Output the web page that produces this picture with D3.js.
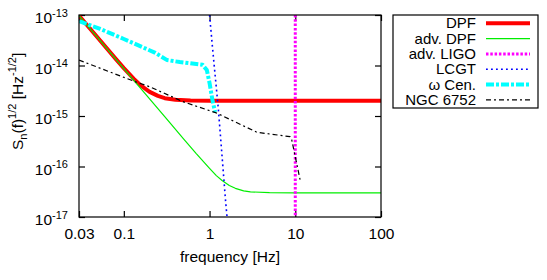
<!DOCTYPE html>
<html lang="en">
<head>
    <style>
        body { margin: 0; background: #fff; }
        svg { display: block; }
        text { font-family: "Liberation Sans", Arial, Helvetica, sans-serif; fill: #000; }
    </style>
</head>
<body>
    <svg width="547" height="280"></svg>
    <script src="https://cdn.jsdelivr.net/npm/d3@7/dist/d3.min.js"></script>
    <script>
        // Data (frequency in Hz, sqrt(Sn) in Hz^-1/2)
        const dpfF = [0.03, 0.05, 0.08, 0.1, 0.13, 0.16, 0.2, 0.25, 0.3, 0.4, 0.6, 1, 10, 100];
        const dpfS = [9.7e-14, 3.5e-14, 1.37e-14, 8.9e-15, 5.5e-15, 3.95e-15, 3.0e-15, 2.5e-15, 2.25e-15, 2.1e-15, 2.02e-15, 2.0e-15, 2.0e-15, 2.0e-15];

        const advDpfF = [0.03, 0.1, 0.3, 0.5, 0.7, 1.0, 1.2, 1.4, 1.7, 2.0, 2.5, 3.0, 5, 10, 100];
        const advDpfS = [9.7e-14, 8.7e-15, 9.7e-16, 3.5e-16, 1.8e-16, 9.2e-17, 6.6e-17, 5.3e-17, 4.2e-17, 3.7e-17, 3.3e-17, 3.15e-17, 3.03e-17, 3.0e-17, 3.0e-17];

        const ligoF = [10, 10];
        const ligoS = [1e-13, 1e-17];

        const lcgtF = [1.0, 1.07, 1.27, 1.53, 1.6];
        const lcgtS = [1e-13, 2.8e-14, 1.3e-15, 2.3e-17, 1e-17];

        const omegaF = [0.03, 0.053, 0.1, 0.23, 0.32, 0.45, 0.83, 0.93, 1.0, 1.08, 1.16];
        const omegaS = [7.6e-14, 5.3e-14, 3.35e-14, 1.8e-14, 1.28e-14, 1.17e-14, 1.03e-14, 8.1e-15, 4.5e-15, 2.07e-15, 1.2e-15];

        const ngcF = [0.03, 0.135, 0.2, 0.49, 1.2, 3.58, 8.7, 9.1, 11.4];
        const ngcS = [1.28e-14, 4.8e-15, 3.8e-15, 1.92e-15, 1.15e-15, 4.75e-16, 3.9e-16, 3.35e-16, 5.4e-17];

        const seriesNames = ["DPF", "adv. DPF", "adv. LIGO", "LCGT", "\u03c9 Cen.", "NGC 6752"];
        const xTicks = [0.03, 0.1, 1, 10, 100];
        const xTickLabels = ["0.03", "0.1", "1", "10", "100"];
        const yTicks = [1e-13, 1e-14, 1e-15, 1e-16, 1e-17];
        const yTickExp = ["-13", "-14", "-15", "-16", "-17"];

        const svg = d3.select("svg");
        const pLeft = 79, pRight = 381, pTop = 15, pBottom = 217;

        const x = d3.scaleLog().domain([0.03, 100]).range([pLeft, pRight]);
        const y = d3.scaleLog().domain([1e-17, 1e-13]).range([pBottom, pTop]);

        // Styles per series
        const styles = [
            { color: "#ff0000", width: 4, dash: null },
            { color: "#00ee00", width: 1.2, dash: null },
            { color: "#ff00ff", width: 3, dash: "2.5,1.8" },
            { color: "#0000ff", width: 1.6, dash: "1.8,3.2" },
            { color: "#00ffff", width: 4, dash: "8,2,3,2" },
            { color: "#000000", width: 1.2, dash: "5,3,2,3" }
        ];
        const series = [
            [dpfF, dpfS], [advDpfF, advDpfS], [ligoF, ligoS],
            [lcgtF, lcgtS], [omegaF, omegaS], [ngcF, ngcS]
        ].map((s, i) => ({ name: seriesNames[i], pts: s[0].map((f, j) => [f, s[1][j]]), style: styles[i] }));

        svg.append("defs").append("clipPath").attr("id", "plot")
            .append("rect").attr("x", pLeft).attr("y", pTop)
            .attr("width", pRight - pLeft).attr("height", pBottom - pTop);

        /*** Axes ***/
        const xb = svg.append("g").attr("transform", `translate(0,${pBottom})`)
            .call(d3.axisBottom(x).tickValues(xTicks).tickSize(-6).tickPadding(11)
                .tickFormat((d, i) => xTickLabels[i]));
        svg.append("g").attr("transform", `translate(0,${pTop})`)
            .call(d3.axisTop(x).tickValues(xTicks).tickSize(-6).tickFormat(""));
        const yl = svg.append("g").attr("transform", `translate(${pLeft},0)`)
            .call(d3.axisLeft(y).tickValues(yTicks).tickSize(-6).tickPadding(11).tickFormat(""));
        svg.append("g").attr("transform", `translate(${pRight},0)`)
            .call(d3.axisRight(y).tickValues(yTicks).tickSize(-6).tickFormat(""));

        svg.selectAll(".domain").remove();
        svg.selectAll(".tick line").attr("stroke", "#000").attr("stroke-width", 1.2);
        xb.selectAll("text").style("font-size", "15.5px").attr("fill", "#000");

        // y tick labels: 10 with superscript exponent
        yl.selectAll(".tick text").each(function(d, i) {
            const t = d3.select(this).text(null).attr("dy", "7.7").style("font-size", "15.5px").attr("fill", "#000");
            t.append("tspan").text("10");
            t.append("tspan").attr("dy", -6.7).style("font-size", "11px").text(yTickExp[i]);
        });

        /*** Lines ***/
        const line = d3.line().x(d => x(d[0])).y(d => y(d[1]));
        const plot = svg.append("g").attr("clip-path", "url(#plot)");
        plot.selectAll("path").data(series).enter()
            .append("path")
            .attr("d", d => line(d.pts))
            .attr("fill", "none")
            .attr("stroke", d => d.style.color)
            .attr("stroke-width", d => d.style.width)
            .attr("stroke-dasharray", d => d.style.dash)
            .attr("stroke-linejoin", "round");

        // Frame
        svg.append("rect").attr("x", pLeft).attr("y", pTop)
            .attr("width", pRight - pLeft).attr("height", pBottom - pTop)
            .attr("fill", "none").attr("stroke", "#000").attr("stroke-width", 1.2);

        /*** Axis labels ***/
        svg.append("text").attr("x", (pLeft + pRight) / 2).attr("y", 262)
            .attr("text-anchor", "middle").style("font-size", "15.5px").text("frequency [Hz]");

        const yLab = svg.append("text").attr("transform", "translate(22.7,150) rotate(-90)")
            .style("font-size", "15.5px");
        yLab.append("tspan").text("S");
        yLab.append("tspan").attr("dy", 4).style("font-size", "11px").text("n");
        yLab.append("tspan").attr("dy", -4).text("(f)");
        yLab.append("tspan").attr("dy", -6.5).style("font-size", "11px").text("1/2");
        yLab.append("tspan").attr("dy", 6.5).text(" [Hz");
        yLab.append("tspan").attr("dy", -6.5).style("font-size", "11px").text("-1/2");
        yLab.append("tspan").attr("dy", 6.5).text("]");

        /*** Legend ***/
        const legend = svg.append("g");
        legend.append("rect").attr("x", 393).attr("y", 15).attr("width", 145).attr("height", 93)
            .attr("fill", "#fff").attr("stroke", "#000").attr("stroke-width", 1.2);
        const rows = legend.selectAll("g.row").data(series).enter()
            .append("g").attr("class", "row")
            .attr("transform", (d, i) => `translate(0,${23.3 + i * 15.3})`);
        rows.append("text").attr("x", 476).attr("y", 5).attr("text-anchor", "end")
            .style("font-size", "15px").text(d => d.name);
        rows.append("line").attr("x1", 486).attr("x2", 530).attr("y1", 0).attr("y2", 0)
            .attr("stroke", d => d.style.color)
            .attr("stroke-width", d => d.style.width)
            .attr("stroke-dasharray", d => d.style.dash);
    </script>
</body>
</html>
